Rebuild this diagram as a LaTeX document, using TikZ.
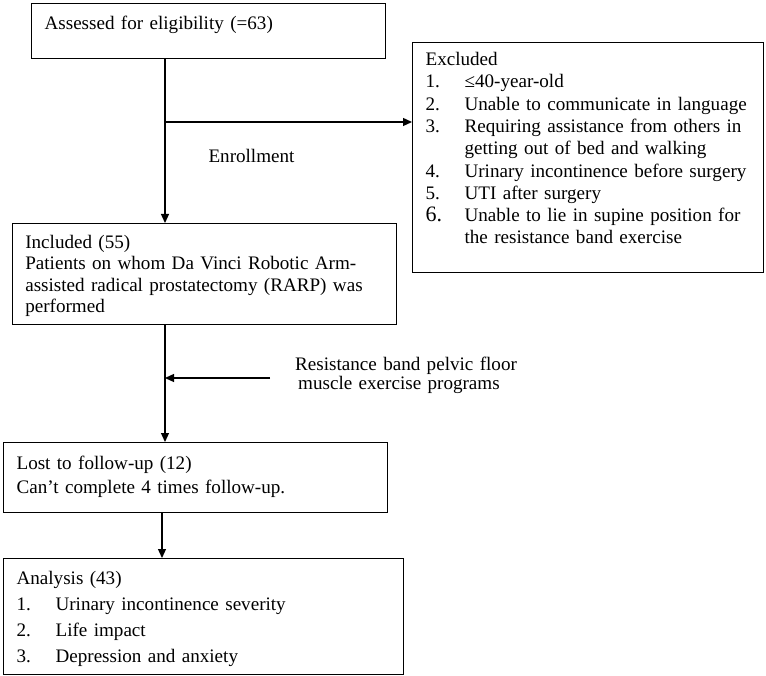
\documentclass[tikz,border=0pt]{standalone}
\usepackage{fontspec}
\setmainfont{Liberation Serif}
\usetikzlibrary{positioning,arrows.meta}

\newcommand{\lnum}[1]{\makebox[39pt][l]{#1}}

\begin{document}
\begin{tikzpicture}[x=1pt, y=-1pt,
  box/.style={draw, line width=1.2pt, anchor=north west, inner xsep=13pt, inner ysep=0pt, align=left},
  flow/.style={line width=1.3pt, -{Triangle[length=9pt,width=8pt]}},
  lbl/.style={font=\fontsize{19.1}{14.5}\selectfont}]

\useasboundingbox (0,0) rectangle (766,676);

% boxes
\node[box, text width=328pt, text height=26pt, text depth=29pt, font=\fontsize{19.1}{22}\selectfont] (assess) at (31,3) {Assessed for eligibility (=63)};
\node[box, text width=325pt, text height=23pt, text depth=207pt, font=\fontsize{19.1}{22.3}\selectfont] (excl) at (412,42) {Excluded\\
\mbox{\lnum{1.}≤40-year-old}\\
\mbox{\lnum{2.}Unable to communicate in language}\\
\mbox{\lnum{3.}Requiring assistance from others in}\\
\mbox{\hspace*{39pt}getting out of bed and walking}\\
\mbox{\lnum{4.}Urinary incontinence before surgery}\\
\mbox{\lnum{5.}UTI after surgery}\\
\mbox{\lnum{\fontsize{22}{22.3}\selectfont 6.}Unable to lie in supine position for}\\
\mbox{\hspace*{39pt}the resistance band exercise}};
\node[box, text width=358pt, text height=25pt, text depth=76pt, font=\fontsize{19.1}{21.3}\selectfont] (incl) at (11.7,223) {Included (55)\\
\mbox{Patients on whom Da Vinci Robotic Arm-}\\
\mbox{assisted radical prostatectomy (RARP) was}\\
performed};
\node[box, text width=358pt, text height=27pt, text depth=43pt, font=\fontsize{19.1}{24}\selectfont] (lost) at (3,442) {Lost to follow-up (12)\\
\mbox{Can’t complete 4 times follow-up.}};
\node[box, text width=374pt, text height=26pt, text depth=90pt, font=\fontsize{19.1}{26}\selectfont] (anal) at (3,558) {Analysis (43)\\
\mbox{\lnum{1.}Urinary incontinence severity}\\
\mbox{\lnum{2.}Life impact}\\
\mbox{\lnum{3.}Depression and anxiety}};

% labels
\node[lbl, anchor=base west] (enrol) at (205,163) {Enrollment};
\node[lbl, anchor=base west, text width=240pt, align=left, inner sep=0pt] (prog) at (295,370.7) {Resistance band pelvic floor\\
\hspace*{3pt}muscle exercise programs};

% connectors
\coordinate (split) at (165,122);
\coordinate (progtail) at (270,378);
\coordinate (lostdown) at (162,0);
\draw[flow] (assess.south -| split) -- (incl.north -| split);
\draw[flow] (split) -- (excl.west |- split);
\draw[flow] (incl.south -| split) -- (lost.north -| split);
\draw[flow] (progtail) -- (progtail -| split);
\draw[flow] (lost.south -| lostdown) -- (anal.north -| lostdown);
\end{tikzpicture}
\end{document}
